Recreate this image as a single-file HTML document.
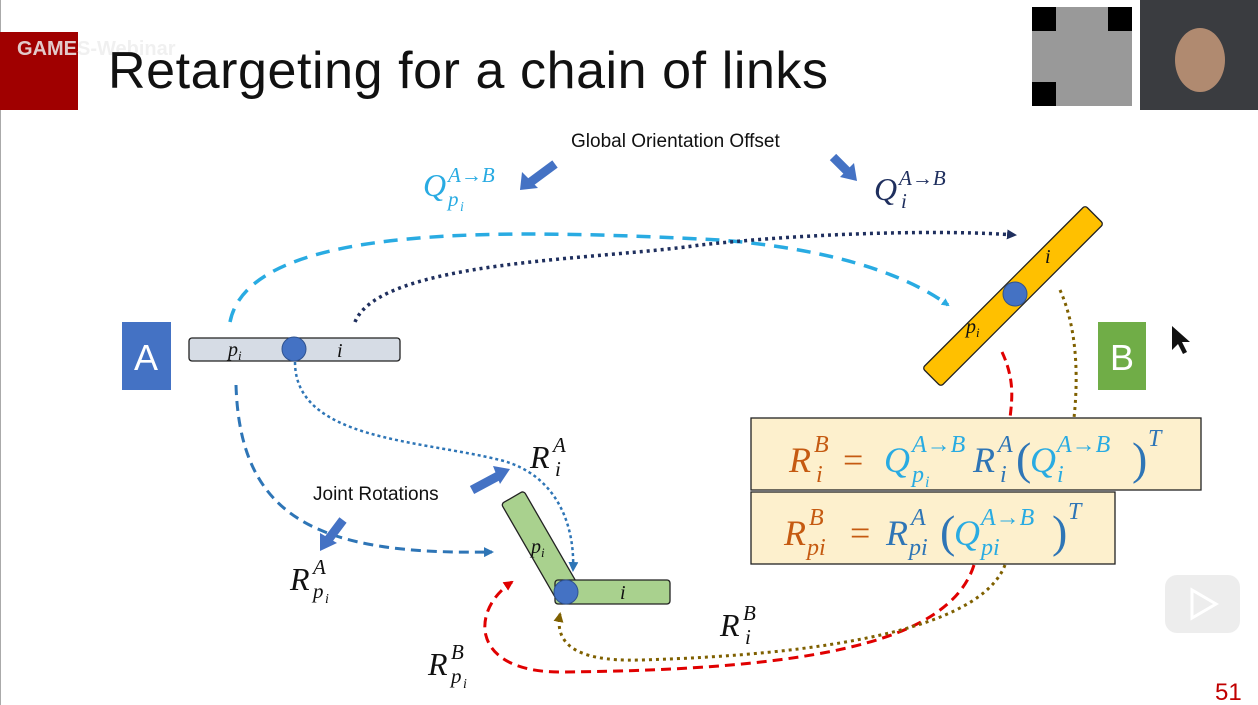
<!DOCTYPE html>
<html><head><meta charset="utf-8"><style>
html,body{margin:0;padding:0;background:#fff;}
svg{display:block;}
text{font-family:"Liberation Sans",sans-serif;}
.m{font-family:"Liberation Serif",serif;font-style:italic;}
.n{font-family:"Liberation Serif",serif;}
</style></head><body>
<svg width="1258" height="705" viewBox="0 0 1258 705" xmlns="http://www.w3.org/2000/svg">
<defs>
<marker id="ab" markerWidth="8" markerHeight="8" refX="6" refY="4" orient="auto" markerUnits="userSpaceOnUse"><path d="M0,0 L8,4 L0,8z" fill="#29abe2"/></marker>
<marker id="an" markerWidth="10" markerHeight="10" refX="8" refY="5" orient="auto" markerUnits="userSpaceOnUse"><path d="M0,0 L10,5 L0,10z" fill="#1f2f5e"/></marker>
<marker id="am" markerWidth="10" markerHeight="10" refX="8" refY="5" orient="auto" markerUnits="userSpaceOnUse"><path d="M0,0 L10,5 L0,10z" fill="#2e75b6"/></marker>
<marker id="ar" markerWidth="10" markerHeight="10" refX="8" refY="5" orient="auto" markerUnits="userSpaceOnUse"><path d="M0,0 L10,5 L0,10z" fill="#e00000"/></marker>
<marker id="ao" markerWidth="10" markerHeight="10" refX="8" refY="5" orient="auto" markerUnits="userSpaceOnUse"><path d="M0,0 L10,5 L0,10z" fill="#7f6000"/></marker>
</defs>
<line x1="0.5" y1="0" x2="0.5" y2="705" stroke="#aaa"/>
<rect x="0" y="32" width="78" height="78" fill="#a00000"/>
<text x="17" y="55" font-size="20" font-weight="bold" fill="#eee" opacity="0.85">GAMES-Webinar</text>
<text x="108" y="88" font-size="52" fill="#111" textLength="720" lengthAdjust="spacing">Retargeting for a chain of links</text>
<rect x="1030" y="5" width="104" height="103" fill="#fff"/>
<rect x="1032" y="7" width="100" height="99" fill="#555" opacity="0.6"/>
<rect x="1032" y="7" width="24" height="24" fill="#000"/><rect x="1108" y="7" width="24" height="24" fill="#000"/><rect x="1032" y="82" width="24" height="24" fill="#000"/>
<rect x="1140" y="0" width="118" height="110" fill="#3a3c40"/>
<ellipse cx="1200" cy="60" rx="25" ry="32" fill="#b08a70"/>
<text x="571" y="147" font-size="19" fill="#111">Global Orientation Offset</text>
<line x1="555" y1="164" x2="528" y2="184" stroke="#4472c4" stroke-width="9"/><path d="M520,190 L522,172 L538,188z" fill="#4472c4"/>
<line x1="833" y1="157" x2="850" y2="174" stroke="#4472c4" stroke-width="9"/><path d="M857,181 L840,177 L854,163z" fill="#4472c4"/>
<g fill="#29abe2"><text class="m" x="423" y="196" font-size="32">Q</text><text class="m" x="448" y="182" font-size="21">A→B</text><text class="m" x="448" y="206" font-size="21">p</text><text class="m" x="460" y="211" font-size="14">i</text></g>
<g fill="#1f2f5e"><text class="m" x="874" y="200" font-size="32">Q</text><text class="m" x="899" y="185" font-size="21">A→B</text><text class="m" x="901" y="208" font-size="21">i</text></g>
<!-- curves -->
<path d="M230,322 C250,220 520,230 720,240 C820,248 900,270 948,305" fill="none" stroke="#29abe2" stroke-width="3.5" stroke-dasharray="14,9" marker-end="url(#ab)"/>
<path d="M355,322 C380,260 600,260 700,245 C820,232 950,230 1015,235" fill="none" stroke="#1f2f5e" stroke-width="3.5" stroke-dasharray="3,4" marker-end="url(#an)"/>
<path d="M236,385 C240,520 320,555 492,552" fill="none" stroke="#2e75b6" stroke-width="3" stroke-dasharray="10,6" marker-end="url(#am)"/>
<path d="M295,362 C295,440 420,440 500,460 C560,475 575,530 573,570" fill="none" stroke="#2e75b6" stroke-width="2.5" stroke-dasharray="3,3" marker-end="url(#am)"/>
<path d="M1002,352 C1015,380 1012,400 1010,418" fill="none" stroke="#e00000" stroke-width="3" stroke-dasharray="9,5"/>
<path d="M974,565 C950,640 820,670 560,672 C470,672 470,610 512,582" fill="none" stroke="#e00000" stroke-width="3" stroke-dasharray="10,6" marker-end="url(#ar)"/>
<path d="M1060,290 C1078,330 1078,380 1074,418" fill="none" stroke="#7f6000" stroke-width="3" stroke-dasharray="3,4"/>
<path d="M1005,565 C980,630 820,655 640,660 C570,662 555,640 560,614" fill="none" stroke="#7f6000" stroke-width="3" stroke-dasharray="3,4" marker-end="url(#ao)"/>
<!-- A -->
<rect x="122" y="322" width="49" height="68" fill="#4472c4"/>
<text x="146" y="370" font-size="36" fill="#fff" text-anchor="middle">A</text>
<rect x="189" y="338" width="211" height="23" rx="3" fill="#d6dce5" stroke="#222" stroke-width="1.3"/>
<circle cx="294" cy="349" r="12" fill="#4472c4" stroke="#2f528f"/>
<text class="m" x="228" y="356" font-size="20" fill="#111">p<tspan font-size="13" dy="4">i</tspan></text>
<text class="m" x="337" y="357" font-size="20" fill="#111">i</text>
<!-- B -->
<rect x="1098" y="322" width="48" height="68" fill="#70ad47"/>
<text x="1122" y="370" font-size="36" fill="#fff" text-anchor="middle">B</text>
<path d="M1172,326 L1172,350 L1178,344 L1183,354 L1187,352 L1182,342 L1190,342z" fill="#111"/>
<g transform="translate(1013,296) rotate(-45)">
<rect x="-115" y="-13" width="230" height="26" rx="3" fill="#ffc000" stroke="#222" stroke-width="1.3"/>
</g>
<circle cx="1015" cy="294" r="12" fill="#4472c4" stroke="#2f528f"/>
<text class="m" x="966" y="333" font-size="20" fill="#111">p<tspan font-size="13" dy="4">i</tspan></text>
<text class="m" x="1045" y="263" font-size="20" fill="#111">i</text>
<!-- green -->
<g transform="translate(540,545) rotate(60)">
<rect x="-55" y="-13" width="110" height="26" rx="3" fill="#a9d18e" stroke="#222" stroke-width="1.3"/>
</g>
<rect x="555" y="580" width="115" height="24" rx="3" fill="#a9d18e" stroke="#222" stroke-width="1.3"/>
<circle cx="566" cy="592" r="12" fill="#4472c4" stroke="#2f528f"/>
<text class="m" x="531" y="553" font-size="20" fill="#111">p<tspan font-size="13" dy="4">i</tspan></text>
<text class="m" x="620" y="599" font-size="20" fill="#111">i</text>
<text x="313" y="500" font-size="19" fill="#111">Joint Rotations</text>
<line x1="472" y1="490" x2="500" y2="475" stroke="#4472c4" stroke-width="9"/><path d="M510,469 L493,466 L500,484z" fill="#4472c4"/>
<line x1="343" y1="520" x2="328" y2="540" stroke="#4472c4" stroke-width="9"/><path d="M320,551 L320,533 L337,543z" fill="#4472c4"/>
<g fill="#111">
<text class="m" x="530" y="468" font-size="32">R</text><text class="m" x="553" y="452" font-size="21">A</text><text class="m" x="555" y="476" font-size="21">i</text>
<text class="m" x="290" y="590" font-size="32">R</text><text class="m" x="313" y="574" font-size="21">A</text><text class="m" x="313" y="598" font-size="21">p</text><text class="m" x="325" y="603" font-size="14">i</text>
<text class="m" x="720" y="636" font-size="32">R</text><text class="m" x="743" y="620" font-size="21">B</text><text class="m" x="745" y="644" font-size="21">i</text>
<text class="m" x="428" y="675" font-size="32">R</text><text class="m" x="451" y="659" font-size="21">B</text><text class="m" x="451" y="683" font-size="21">p</text><text class="m" x="463" y="688" font-size="14">i</text>
</g>
<!-- formulas -->
<rect x="751" y="418" width="450" height="72" fill="#fdf0cd" stroke="#222" stroke-width="1.3"/>
<rect x="751" y="492" width="364" height="72" fill="#fdf0cd" stroke="#222" stroke-width="1.3"/>
<g fill="#c55a11">
<text class="m" x="789" y="472" font-size="36">R</text><text class="m" x="814" y="452" font-size="24">B</text><text class="m" x="816" y="482" font-size="24">i</text>
<text class="n" x="843" y="472" font-size="36">=</text>
</g>
<g fill="#29abe2">
<text class="m" x="884" y="472" font-size="36">Q</text><text class="m" x="912" y="452" font-size="24">A→B</text><text class="m" x="912" y="482" font-size="24">p</text><text class="m" x="925" y="487" font-size="16">i</text>
</g>
<g fill="#2e75b6">
<text class="m" x="973" y="472" font-size="36">R</text><text class="m" x="998" y="452" font-size="24">A</text><text class="m" x="1000" y="482" font-size="24">i</text>
<text class="n" x="1016" y="474" font-size="46">(</text>
<text class="n" x="1132" y="474" font-size="46">)</text><text class="m" x="1148" y="446" font-size="24">T</text>
</g>
<g fill="#29abe2">
<text class="m" x="1030" y="472" font-size="36">Q</text><text class="m" x="1057" y="452" font-size="24">A→B</text><text class="m" x="1057" y="482" font-size="24">i</text>
</g>
<g fill="#c55a11">
<text class="m" x="784" y="545" font-size="36">R</text><text class="m" x="809" y="525" font-size="24">B</text><text class="m" x="807" y="555" font-size="24">pi</text>
<text class="n" x="850" y="545" font-size="36">=</text>
</g>
<g fill="#2e75b6">
<text class="m" x="886" y="545" font-size="36">R</text><text class="m" x="911" y="525" font-size="24">A</text><text class="m" x="909" y="555" font-size="24">pi</text>
<text class="n" x="940" y="547" font-size="46">(</text>
<text class="n" x="1052" y="547" font-size="46">)</text><text class="m" x="1068" y="519" font-size="24">T</text>
</g>
<g fill="#29abe2">
<text class="m" x="954" y="545" font-size="36">Q</text><text class="m" x="981" y="525" font-size="24">A→B</text><text class="m" x="981" y="555" font-size="24">pi</text>
</g>
<rect x="1165" y="575" width="75" height="58" rx="12" fill="#e8e8e8" opacity="0.8"/>
<path d="M1192,590 L1192,618 L1216,604z" fill="none" stroke="#fff" stroke-width="3"/>
<text x="1215" y="700" font-size="24" fill="#c00000">51</text>
</svg>
</body></html>
